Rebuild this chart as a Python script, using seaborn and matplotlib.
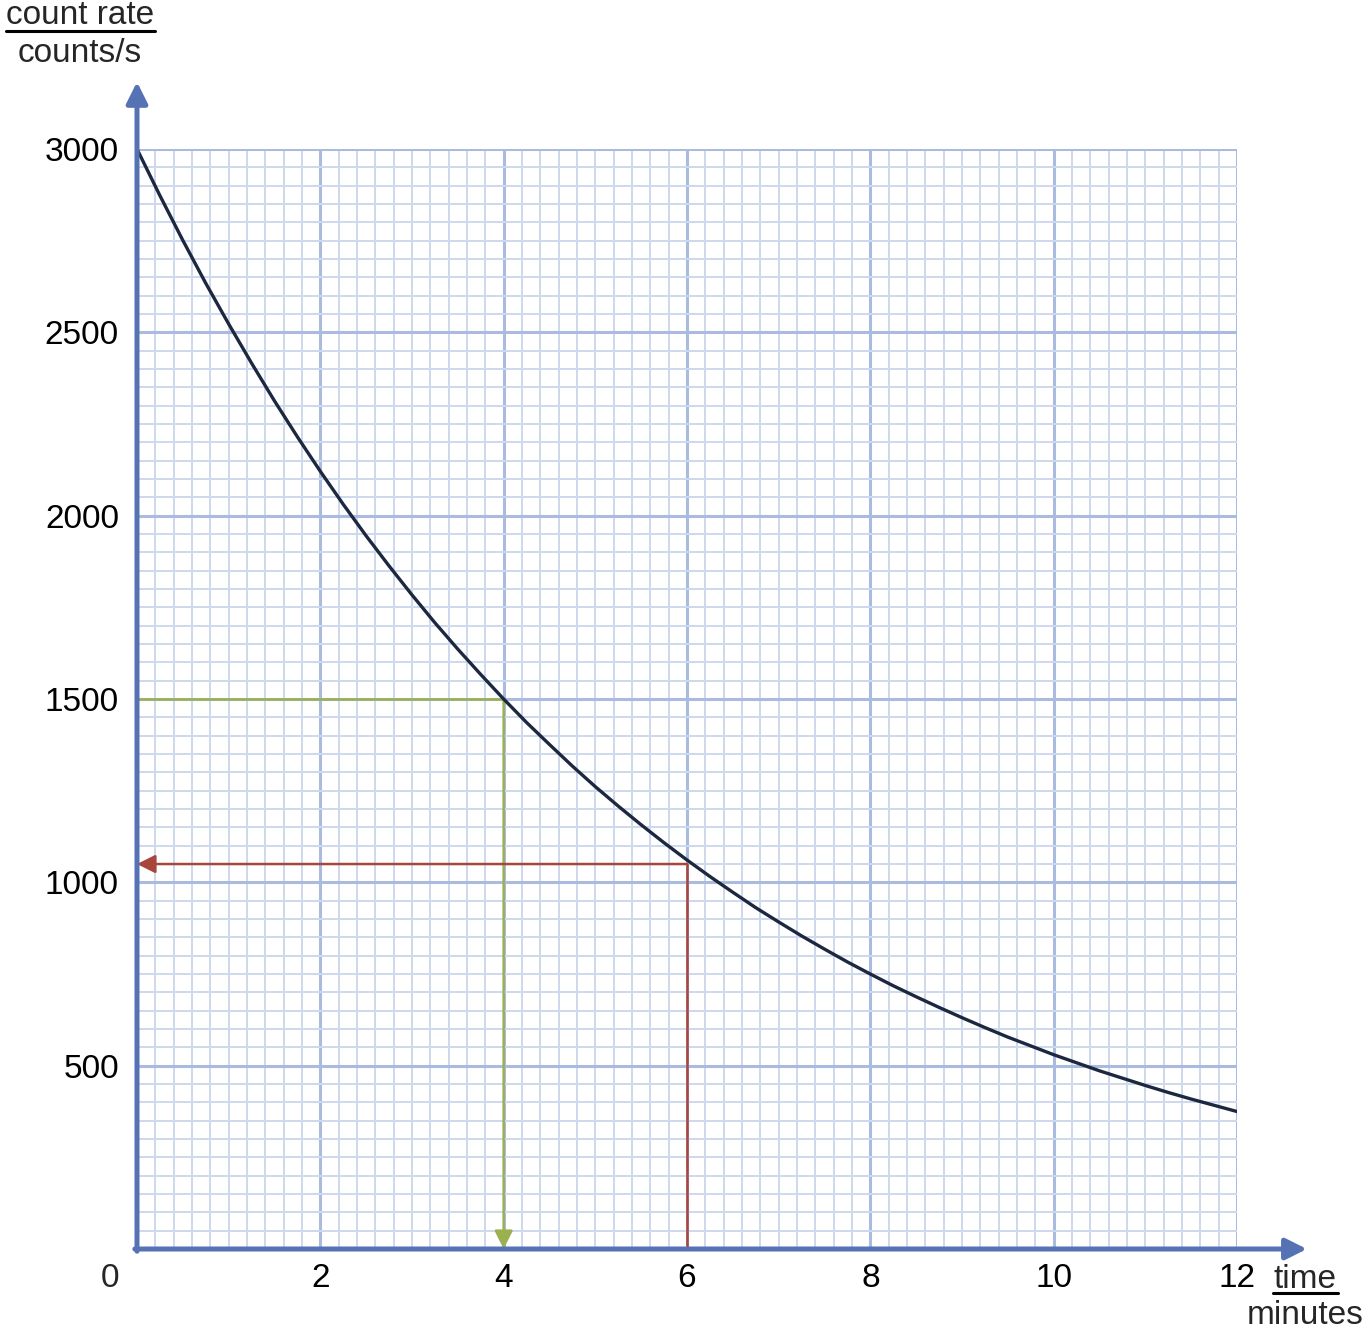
# ============================================================================
# Radioactive decay: count rate against time (half-life read-off)
# ============================================================================

import matplotlib
matplotlib.use("Agg")

import pandas as pd
import matplotlib.pyplot as plt
from matplotlib.lines import Line2D
from matplotlib.ticker import MultipleLocator

import seaborn as sns


# ============================================================================
# Data
# ============================================================================

time_min = [0, 0.25, 0.5, 0.75, 1, 1.25, 1.5, 1.75, 2, 2.25, 2.5, 2.75,
            3, 3.25, 3.5, 3.75, 4, 4.25, 4.5, 4.75, 5, 5.25, 5.5, 5.75,
            6, 6.25, 6.5, 6.75, 7, 7.25, 7.5, 7.75, 8, 8.25, 8.5, 8.75,
            9, 9.25, 9.5, 9.75, 10, 10.25, 10.5, 10.75, 11, 11.25, 11.5, 11.75,
            12]

count_rate = [3000, 2873, 2751, 2634, 2523, 2416, 2313, 2215, 2121, 2031, 1945, 1863,
              1784, 1708, 1636, 1567, 1500, 1436, 1376, 1317, 1261, 1208, 1157, 1108,
              1061, 1016, 973, 931, 892, 854, 818, 783, 750, 718, 688, 659,
              631, 604, 578, 554, 530, 508, 486, 466, 446, 427, 409, 392,
              375]

# half-life construction lines
green_rate = 1500
green_time = 4
red_time = 6
red_rate = 1050

x_ticks = [2, 4, 6, 8, 10, 12]
y_ticks = [500, 1000, 1500, 2000, 2500, 3000]

decay = pd.DataFrame({"time": time_min, "rate": count_rate})


# ============================================================================
# Style
# ============================================================================

sns.set_theme(style="white")

plt.rcParams["font.family"] = ["Liberation Sans", "DejaVu Sans"]

AXIS_BLUE = "#5572b4"
MAJOR_GRID = "#abbbdf"
MINOR_GRID = "#ced8ee"
CURVE = "#1c2740"
GREEN = "#9bb04e"
RED = "#a8453c"
FS = 24


# ============================================================================
# Figure
# ============================================================================

fig = plt.figure(figsize=(13.7, 13.32), dpi=100)

ax = fig.add_axes([0.1, 0.0623, 0.8029, 0.8258])

ax.set_xlim(0, 12)
ax.set_ylim(0, 3000)

ax.xaxis.set_minor_locator(MultipleLocator(0.2))
ax.yaxis.set_minor_locator(MultipleLocator(50))

ax.set_xticks(x_ticks)
ax.set_yticks(y_ticks)

ax.grid(which="minor", color=MINOR_GRID, linewidth=1.4)
ax.grid(which="major", color=MAJOR_GRID, linewidth=2.2)
ax.set_axisbelow(True)

ax.tick_params(which="both", length=0, labelsize=FS, colors="black")
ax.tick_params(axis="x", pad=10)
ax.tick_params(axis="y", pad=13)

for side in ax.spines:
    ax.spines[side].set_visible(False)


# ============================================================================
# Decay curve
# ============================================================================

sns.lineplot(
    data=decay,
    x="time",
    y="rate",
    color=CURVE,
    linewidth=2.4,
    ax=ax,
    zorder=5
)

ax.set_xlabel("")
ax.set_ylabel("")


# ============================================================================
# Construction lines
# ============================================================================

ax.plot([0, green_time], [green_rate, green_rate], color=GREEN, lw=1.8, zorder=4)

ax.annotate(
    "",
    xy=(green_time, 0),
    xytext=(green_time, green_rate),
    arrowprops=dict(arrowstyle="-|>", color=GREEN, lw=1.8,
                    mutation_scale=28, shrinkA=0, shrinkB=0),
    zorder=4
)

ax.plot([red_time, red_time], [0, red_rate], color=RED, lw=1.8, zorder=4)

ax.annotate(
    "",
    xy=(0, red_rate),
    xytext=(red_time, red_rate),
    arrowprops=dict(arrowstyle="-|>", color=RED, lw=1.8,
                    mutation_scale=28, shrinkA=0, shrinkB=0),
    zorder=4
)


# ============================================================================
# Axes with arrow heads
# ============================================================================

ax.annotate(
    "",
    xy=(0, 1.061),
    xytext=(0, -0.002),
    xycoords="axes fraction",
    arrowprops=dict(arrowstyle="-|>", color=AXIS_BLUE, lw=3.6,
                    mutation_scale=32, shrinkA=0, shrinkB=0),
    annotation_clip=False,
    zorder=6
)

ax.annotate(
    "",
    xy=(1.0636, 0),
    xytext=(-0.002, 0),
    xycoords="axes fraction",
    arrowprops=dict(arrowstyle="-|>", color=AXIS_BLUE, lw=3.6,
                    mutation_scale=32, shrinkA=0, shrinkB=0),
    annotation_clip=False,
    zorder=6
)

# origin label
ax.annotate(
    "0",
    xy=(0, 0),
    xytext=(-19.5, -10),
    textcoords="offset points",
    ha="center",
    va="top",
    fontsize=FS,
    annotation_clip=False
)


# ============================================================================
# Axis titles (underlined quantity, unit below)
# ============================================================================

fig.text(80 / 1370, 1 - 16 / 1332, "count rate", ha="center", va="center", fontsize=FS)
fig.add_artist(Line2D([6 / 1370, 155 / 1370], [1 - 31 / 1332, 1 - 31 / 1332],
                      color="black", lw=2.2))
fig.text(80 / 1370, 1 - 54 / 1332, "counts/s", ha="center", va="center", fontsize=FS)

fig.text(1305 / 1370, 1 - 1279 / 1332, "time", ha="center", va="center", fontsize=FS)
fig.add_artist(Line2D([1273 / 1370, 1338 / 1370], [1 - 1293 / 1332, 1 - 1293 / 1332],
                      color="black", lw=2.2))
fig.text(1305 / 1370, 1 - 1316 / 1332, "minutes", ha="center", va="center", fontsize=FS)


plt.savefig("out.png", dpi=100)
